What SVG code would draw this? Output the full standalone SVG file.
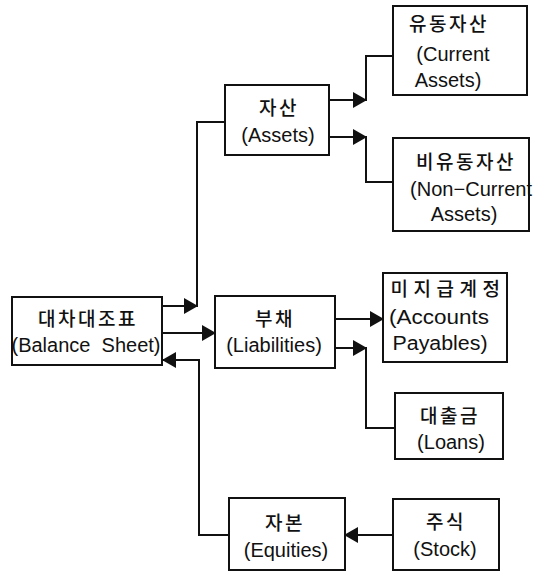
<svg xmlns="http://www.w3.org/2000/svg" width="542" height="574" viewBox="0 0 542 574">
<style>
.box{fill:#fff;stroke:#111;stroke-width:2}
.ko{font-family:"Noto Sans CJK KR","Noto Sans",sans-serif;font-size:19px;font-weight:500;fill:#111;text-anchor:middle;letter-spacing:2.5px}
.en{font-family:"Liberation Sans",Arial,sans-serif;font-size:20px;fill:#111;text-anchor:middle}
.ln{fill:none;stroke:#111;stroke-width:2}
</style>
<defs>
<marker id="ah" viewBox="0 0 14 16" refX="13" refY="8" markerWidth="14" markerHeight="16" markerUnits="userSpaceOnUse" orient="auto">
<path d="M0,0 L14,8 L0,16 z" fill="#111"/>
</marker>
</defs>
<g id="connectors">
<line class="ln" x1="162" y1="306" x2="197" y2="306" marker-end="url(#ah)"/>
<polyline class="ln" points="197,307 197,122 225,122"/>
<line class="ln" x1="162" y1="333" x2="215" y2="333" marker-end="url(#ah)"/>
<polyline class="ln" points="229,535 199,535 199,360 163,360" marker-end="url(#ah)"/>
<line class="ln" x1="329" y1="100" x2="366" y2="100" marker-end="url(#ah)"/>
<polyline class="ln" points="366,101 366,56 393,56"/>
<line class="ln" x1="329" y1="137" x2="366" y2="137" marker-end="url(#ah)"/>
<polyline class="ln" points="366,136 366,182 393,182"/>
<line class="ln" x1="335" y1="319" x2="383" y2="319" marker-end="url(#ah)"/>
<line class="ln" x1="335" y1="348" x2="366" y2="348" marker-end="url(#ah)"/>
<polyline class="ln" points="366,347 366,428 395,428"/>
<line class="ln" x1="393" y1="535" x2="345" y2="535" marker-end="url(#ah)"/>
</g>
<g id="balance-sheet">
<rect class="box" x="12" y="297" width="150" height="68"/>
<text class="ko" x="88" y="326">대차대조표</text>
<text class="en" x="86" y="352" xml:space="preserve">(Balance  Sheet)</text>
</g>
<g id="assets">
<rect class="box" x="225" y="85" width="104" height="70"/>
<text class="ko" x="279" y="115">자산</text>
<text class="en" x="278" y="142">(Assets)</text>
</g>
<g id="current-assets">
<rect class="box" x="393" y="6" width="134" height="89"/>
<text class="ko" x="449" y="31">유동자산</text>
<text class="en" x="453" y="61">(Current</text>
<text class="en" x="448" y="87">Assets)</text>
</g>
<g id="non-current-assets">
<rect class="box" x="393" y="138" width="136" height="93"/>
<text class="ko" x="466" y="169">비유동자산</text>
<text class="en" x="471" y="196" textLength="122" lengthAdjust="spacingAndGlyphs">(Non−Current</text>
<text class="en" x="464" y="221">Assets)</text>
</g>
<g id="liabilities">
<rect class="box" x="215" y="296" width="120" height="72"/>
<text class="ko" x="275" y="326">부채</text>
<text class="en" x="274" y="352">(Liabilities)</text>
</g>
<g id="accounts-payables">
<rect class="box" x="383" y="273" width="124" height="89"/>
<text class="ko" x="448" y="296" style="letter-spacing:5.5px">미지급계정</text>
<text class="en" x="439" y="324" textLength="100" lengthAdjust="spacingAndGlyphs">(Accounts</text>
<text class="en" x="440" y="350" textLength="95" lengthAdjust="spacingAndGlyphs">Payables)</text>
</g>
<g id="loans">
<rect class="box" x="395" y="393" width="108" height="66"/>
<text class="ko" x="450" y="423">대출금</text>
<text class="en" x="451" y="449">(Loans)</text>
</g>
<g id="equities">
<rect class="box" x="229" y="498" width="116" height="72"/>
<text class="ko" x="285" y="530">자본</text>
<text class="en" x="286" y="557">(Equities)</text>
</g>
<g id="stock">
<rect class="box" x="393" y="499" width="106" height="71"/>
<text class="ko" x="446" y="529">주식</text>
<text class="en" x="445" y="556">(Stock)</text>
</g>
</svg>
